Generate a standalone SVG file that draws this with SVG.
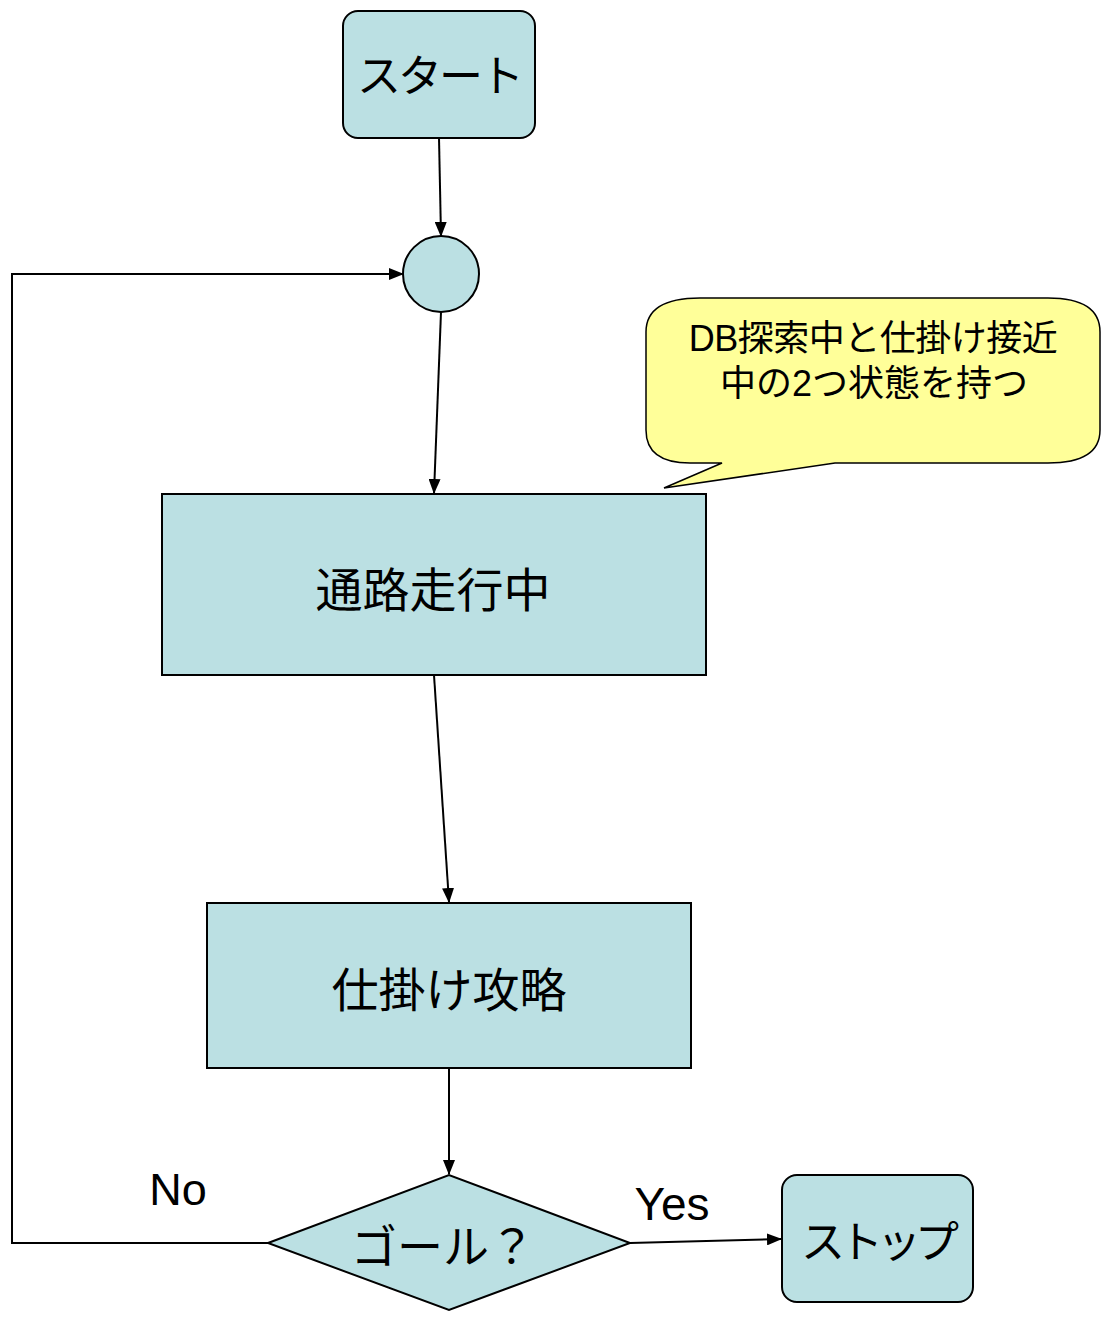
<svg xmlns="http://www.w3.org/2000/svg" width="1102" height="1317" viewBox="0 0 1102 1317">
<style>
.n{fill:#bbe0e3;stroke:#000;stroke-width:2}
.c{fill:none;stroke:#000;stroke-width:2}
.t{font-family:"Liberation Sans","Noto Sans CJK JP",sans-serif;fill:#000;text-anchor:middle}
</style>
<defs>
<marker id="a" markerWidth="15" markerHeight="12" refX="14" refY="6" orient="auto" markerUnits="userSpaceOnUse">
<path d="M0,0 L15,6 L0,12 Z" fill="#000"/>
</marker>
</defs>
<rect width="1102" height="1317" fill="#fff"/>
<g id="connectors">
<path class="c" d="M439,138 L441,236" marker-end="url(#a)"/>
<path class="c" d="M441,312 L434,493" marker-end="url(#a)"/>
<path class="c" d="M434,675 L449,902" marker-end="url(#a)"/>
<path class="c" d="M449,1068 L449,1174" marker-end="url(#a)"/>
<path class="c" d="M268,1243 L12,1243 L12,274 L403,274" marker-end="url(#a)"/>
<path class="c" d="M630,1243 L781,1239" marker-end="url(#a)"/>
</g>
<g id="start">
<rect class="n" x="343" y="11" width="192" height="127" rx="15"/>
<text class="t" x="439" y="92" font-size="44" letter-spacing="-3">スタート</text>
</g>
<g id="junction">
<circle class="n" cx="441" cy="274" r="38"/>
</g>
<g id="callout">
<path d="M700,298 H1048 Q1100,298 1100,332 V430 Q1100,463 1048,463 H835 L664,488 L722,463 H690 Q646,463 646,430 V332 Q646,298 700,298 Z" fill="#ffff99" stroke="#000" stroke-width="1.5"/>
<text class="t" x="873" y="351" font-size="36" letter-spacing="-0.5">DB探索中と仕掛け接近</text>
<text class="t" x="874" y="396" font-size="36" letter-spacing="0">中の2つ状態を持つ</text>
</g>
<g id="running">
<rect class="n" x="162" y="494" width="544" height="181"/>
<text class="t" x="433" y="607" font-size="47">通路走行中</text>
</g>
<g id="attack">
<rect class="n" x="207" y="903" width="484" height="165"/>
<text class="t" x="449" y="1007" font-size="47">仕掛け攻略</text>
</g>
<g id="goal">
<path class="n" d="M268,1243 L449,1175 L630,1243 L449,1310 Z"/>
<text class="t" x="443" y="1263" font-size="46">ゴール？</text>
</g>
<g id="stop">
<rect class="n" x="782" y="1175" width="191" height="127" rx="15"/>
<text class="t" x="877" y="1258" font-size="44" letter-spacing="-6">ストップ</text>
</g>
<g id="labels">
<text class="t" x="178" y="1205" font-size="45">No</text>
<text class="t" x="672" y="1220" font-size="46">Yes</text>
</g>
</svg>
